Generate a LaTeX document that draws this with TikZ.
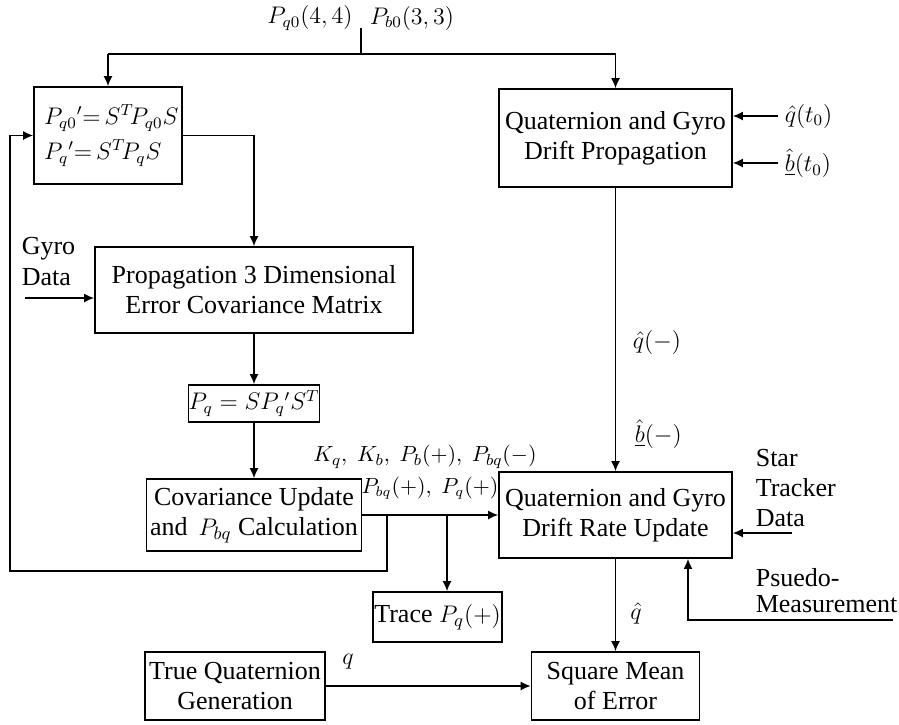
\documentclass[tikz,border=0pt]{standalone}
\usepackage{fontspec}
\setmainfont{Liberation Serif}
\usetikzlibrary{arrows.meta}
\tikzset{
	blk/.style={draw,line width=.8pt,inner sep=0pt,align=center},
	lbl/.style={inner sep=0pt,align=left},
	mlbl/.style={inner sep=0pt,font=\fontsize{11.5}{14}\selectfont},
}
\begin{document}
\begin{tikzpicture}[x=.5pt,y=-.5pt,line width=.8pt,>={Latex[length=5pt,width=4.5pt]},font=\fontsize{13}{15}\selectfont]
	\useasboundingbox (0,0) rectangle (899,724);
	\node[blk,align=left,text width=64pt,inner xsep=5pt,minimum height=48.5pt,font=\fontsize{12}{17.5}\selectfont] (sbox) at (108,135.5) {$P_{q0}{}'{=}\,S^T\!P_{q0}S$\\$P_q{}'{=}\,S^T\!P_qS$};
	\node[blk,minimum width=116.5pt,minimum height=49pt] (prop) at (615.5,138) {Quaternion and Gyro\\Drift Propagation};
	\node[blk,minimum width=159pt,minimum height=43pt] (cov3) at (254,290) {Propagation 3 Dimensional\\Error Covariance Matrix};
	\node[blk,minimum width=64pt,minimum height=18.5pt,font=\fontsize{12}{14}\selectfont] (pq) at (254,403.5) {$P_q = SP_q{}'S^T$};
	\node[blk,minimum width=107.5pt,minimum height=36pt] (covupd) at (254,515) {Covariance Update\\and \,$P_{bq}$ Calculation};
	\node[blk,minimum width=116.5pt,minimum height=43pt] (update) at (615.5,515) {Quaternion and Gyro\\Drift Rate Update};
	\node[blk,minimum width=64.5pt,minimum height=25pt] (trace) at (437.5,617) {Trace $P_q(+)$};
	\node[blk,minimum width=90pt,minimum height=34pt] (truequat) at (235,686) {True Quaternion\\Generation};
	\node[blk,minimum width=84pt,minimum height=34pt] (square) at (615.5,686) {Square Mean\\of Error};
	\node[mlbl] (pq0) at (310,18) {$P_{q0}(4,4)$};
	\node[mlbl] (pb0) at (412,18) {$P_{b0}(3,3)$};
	\node[mlbl,anchor=west] (qt0) at (784,116) {$\hat q(t_0)$};
	\node[mlbl,anchor=west] (bt0) at (784,163) {$\underline{\hat b}(t_0)$};
	\node[lbl,anchor=west,font=\fontsize{13}{15.5}\selectfont] (gyro) at (21,262) {Gyro\\Data};
	\node[mlbl,anchor=west] (qminus) at (632,342) {$\hat q(-)$};
	\node[mlbl,anchor=west] (bminus) at (634,434) {$\underline{\hat b}(-)$};
	\node[mlbl,font=\fontsize{11}{13}\selectfont] (gains) at (425,457) {$K_q,\;K_b,\;P_b(+),\;P_{bq}(-)$};
	\node[mlbl,font=\fontsize{10.5}{13}\selectfont] (covs) at (430,488) {$P_{bq}(+),\;P_q(+)$};
	\node[lbl,anchor=west] (star) at (755,488) {Star\\Tracker\\Data};
	\node[lbl,anchor=west,font=\fontsize{13}{13}\selectfont] (pseudo) at (755,591) {Psuedo-\\Measurement};
	\node[mlbl] (qhat) at (636,613) {$\hat q$};
	\node[mlbl] (qtrue) at (348,662) {$q$};
	\coordinate (tick) at (361,28);
	\coordinate (tl) at (108,54);
	\coordinate (tr) at (615.5,54);
	\coordinate (gyroin) at (25,298);
	\coordinate (fb) at (387,515);
	\coordinate (fbl) at (10,571);
	\coordinate (tb) at (447,515);
	\coordinate (stin) at (792,533);
	\coordinate (psin) at (893,620);
	\draw (tl) -- (tr);
	\draw (tick) -- (tick |- tl);
	\draw[->] (tl) -- (sbox.north);
	\draw[->] (tr) -- (prop.north);
	\draw[->] ([xshift=-3pt]qt0.west) -- (qt0.west -| prop.east);
	\draw[->] ([xshift=-3pt]bt0.west) -- (bt0.west -| prop.east);
	\draw[->] (sbox.east) -| (cov3.north);
	\draw[->] (gyroin) -- (gyroin -| cov3.west);
	\draw[->] (cov3.south) -- (pq.north);
	\draw[->] (pq.south) -- (covupd.north);
	\draw[->] (covupd.east) -- (update.west);
	\draw[->] (fb) |- (fbl) |- (sbox.west);
	\draw[->] (tb) -- (tb |- trace.north);
	\draw[->] (prop.south) -- (update.north);
	\draw[->] (stin) -- (stin -| update.east);
	\draw[->] (psin) -| ([xshift=36.25pt]update.south);
	\draw[->] (update.south) -- (square.north);
	\draw[->] (truequat.east) -- (square.west);
\end{tikzpicture}
\end{document}
